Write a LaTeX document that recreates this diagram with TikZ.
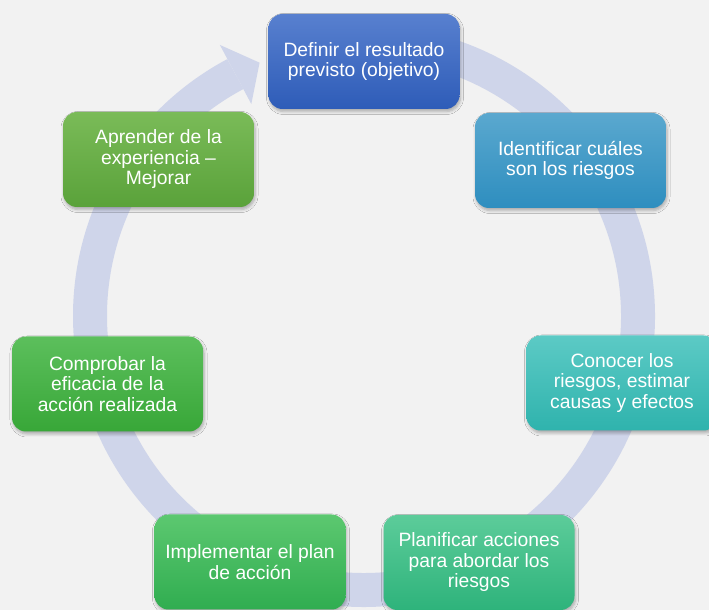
\documentclass[tikz,border=0pt]{standalone}
\usepackage{fontspec}
\setmainfont{Liberation Sans}
\usetikzlibrary{shadows.blur}
\definecolor{bgc}{HTML}{F2F2F2}
\definecolor{ringc}{HTML}{CFD5EA}
\definecolor{aT}{HTML}{5880CF}\definecolor{aB}{HTML}{2E5CB8}
\definecolor{bT}{HTML}{5AA8CF}\definecolor{bB}{HTML}{2E8EBF}
\definecolor{cT}{HTML}{5CCAC5}\definecolor{cB}{HTML}{2FB3AD}
\definecolor{dT}{HTML}{5CCC9A}\definecolor{dB}{HTML}{2EB37B}
\definecolor{eT}{HTML}{5CC870}\definecolor{eB}{HTML}{30AD50}
\definecolor{fT}{HTML}{5CBF5C}\definecolor{fB}{HTML}{38A738}
\definecolor{gT}{HTML}{7ABB58}\definecolor{gB}{HTML}{5AA23A}
\tikzset{
  stepbox/.style={rounded corners=14pt, minimum width=191pt, minimum height=95pt,
    inner sep=0pt, align=center, text=white,
    font=\fontsize{19.3}{20.5}\selectfont,
    blur shadow={shadow xshift=1pt, shadow yshift=-2.5pt, shadow blur steps=6, shadow opacity=30, shadow blur radius=3pt}},
  ring/.style={draw=ringc, line width=34pt},
}
\begin{document}
\begin{tikzpicture}[x=1pt,y=1pt]
\useasboundingbox (0,0) rectangle (709,610);
\clip (0,0) rectangle (709,610);
\fill[bgc] (0,0) rectangle (709,610);
\coordinate (c) at (364,294);
\draw[ring] ([shift={(95:274)}]c) arc[start angle=95, end angle=-242, radius=274];
\fill[ringc] ([shift={(118:240)}]c) -- ([shift={(112.4:274)}]c) -- ([shift={(118:307)}]c) -- cycle;
\node[stepbox, top color=aT, bottom color=aB] (n1) at (364,548.5) {Definir el resultado\\previsto (objetivo)};
\node[stepbox, top color=bT, bottom color=bB] (n2) at (570.5,449.5) {Identificar cuáles\\son los riesgos};
\node[stepbox, top color=cT, bottom color=cB] (n3) at (622,227) {Conocer los\\riesgos, estimar\\causas y efectos};
\node[stepbox, top color=dT, bottom color=dB] (n4) at (479,47.5) {Planificar acciones\\para abordar los\\riesgos};
\node[stepbox, top color=eT, bottom color=eB] (n5) at (250,48) {Implementar el plan\\de acción};
\node[stepbox, top color=fT, bottom color=fB] (n6) at (107.5,226) {Comprobar la\\eficacia de la\\acción realizada};
\node[stepbox, top color=gT, bottom color=gB] (n7) at (158.5,450.5) {Aprender de la\\experiencia –\\Mejorar};
\end{tikzpicture}
\end{document}
